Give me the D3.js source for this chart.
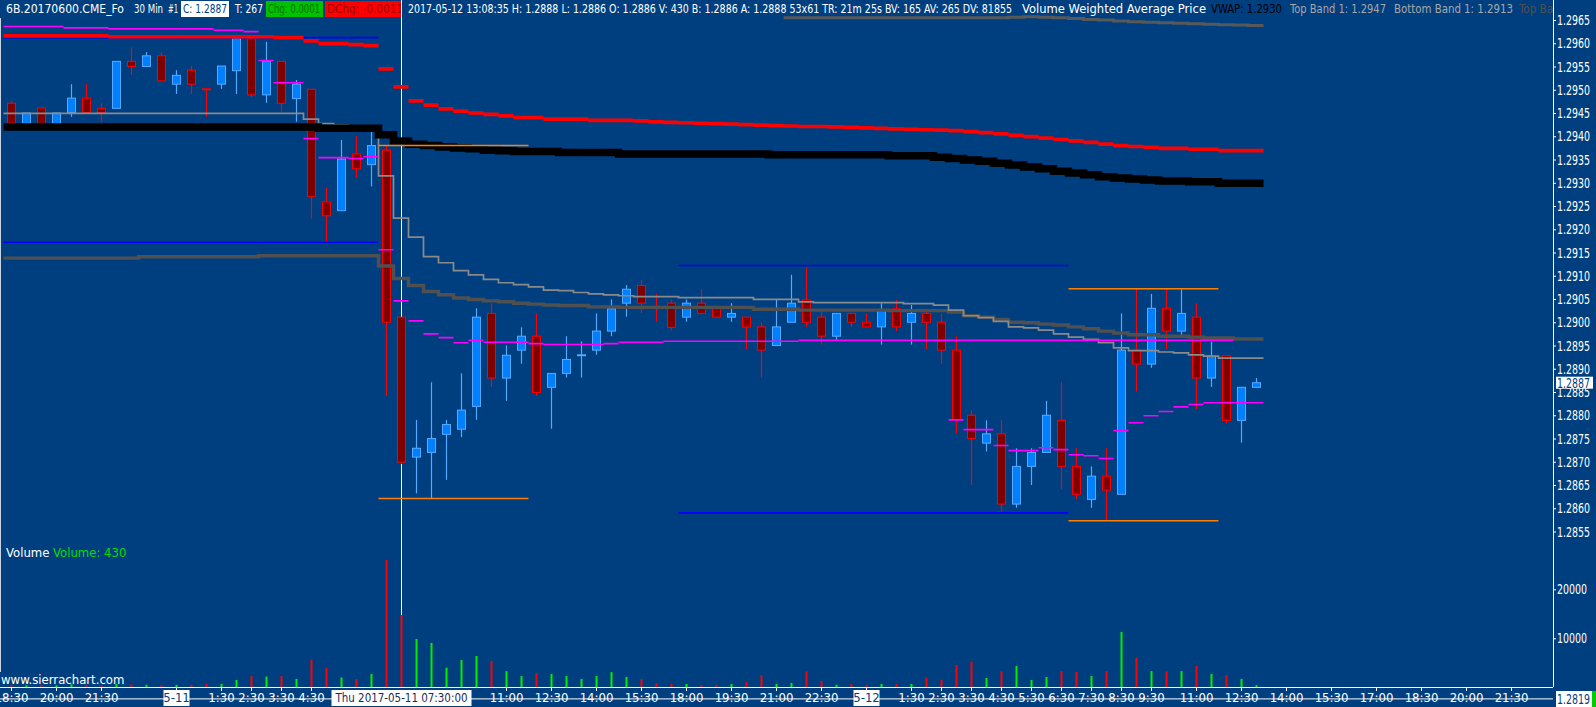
<!DOCTYPE html>
<html><head><meta charset="utf-8">
<script src="https://cdn.jsdelivr.net/npm/d3@7"></script>
<style>
body{margin:0;background:#003f7f;overflow:hidden}
svg{display:block}
text{font-family:"Liberation Sans Narrow","DejaVu Sans Condensed","Liberation Sans",sans-serif}
</style>
</head><body>
<svg id="c" width="1596" height="707"></svg>
<script>
// ---------------- DATA ----------------
const openP=[1.29471,1.29422,1.29461,1.29426,1.29451,1.29482,1.29460,1.29460,1.29561,1.29550,
1.29573,1.29512,1.29542,1.29502,1.29512,1.29541,1.29611,1.29489,1.29561,1.29481,
1.29501,1.29259,1.29240,1.29362,1.29339,1.29370,1.29011,1.28710,1.28720,1.28759,
1.28770,1.28819,1.29019,1.28880,1.28940,1.28970,1.28860,1.28890,1.28928,1.28940,
1.28981,1.29041,1.29079,1.29034,1.29041,1.29011,1.29041,1.29029,1.29011,1.29011,
1.28990,1.28950,1.29000,1.29048,1.29011,1.28970,1.29019,1.29000,1.28990,1.29029,
1.29000,1.29019,1.29000,1.28940,1.28800,1.28740,1.28760,1.28609,1.28690,1.28720,
1.28789,1.28690,1.28619,1.28669,1.28630,1.28940,1.28910,1.29030,1.28981,1.29011,
1.28880,1.28928,1.28789,1.28860];
const highP=[1.29476,1.29450,1.29461,1.29450,1.29512,1.29512,1.29472,1.29561,1.29591,1.29581,
1.29581,1.29542,1.29551,1.29502,1.29551,1.29618,1.29613,1.29603,1.29561,1.29521,
1.29501,1.29290,1.29392,1.29400,1.29409,1.29381,1.29011,1.28790,1.28871,1.28790,
1.28890,1.29030,1.29041,1.28950,1.28989,1.29019,1.28890,1.28970,1.28959,1.29019,
1.29049,1.29080,1.29091,1.29061,1.29049,1.29049,1.29071,1.29029,1.29041,1.29011,
1.29000,1.29048,1.29102,1.29118,1.29023,1.29019,1.29019,1.29019,1.29041,1.29049,
1.29037,1.29029,1.29019,1.28970,1.28811,1.28789,1.28789,1.28729,1.28729,1.28831,
1.28872,1.28729,1.28690,1.28729,1.29019,1.29071,1.29061,1.29071,1.29071,1.29041,
1.28958,1.28928,1.28860,1.28880];
const lowP=[1.29428,1.29422,1.29426,1.29426,1.29442,1.29451,1.29431,1.29460,1.29532,1.29550,
1.29519,1.29491,1.29491,1.29442,1.29502,1.29491,1.29484,1.29472,1.29453,1.29431,
1.29223,1.29173,1.29240,1.29311,1.29292,1.28842,1.28695,1.28632,1.28621,1.28661,
1.28753,1.28790,1.28861,1.28831,1.28911,1.28842,1.28771,1.28881,1.28881,1.28930,
1.28970,1.29012,1.29020,1.29001,1.28982,1.29001,1.29019,1.29011,1.29001,1.28942,
1.28881,1.28950,1.29000,1.28990,1.28952,1.28962,1.28990,1.28990,1.28952,1.28981,
1.28952,1.28942,1.28911,1.28761,1.28650,1.28722,1.28593,1.28601,1.28650,1.28720,
1.28641,1.28620,1.28601,1.28573,1.28630,1.28851,1.28902,1.28942,1.28973,1.28813,
1.28861,1.28782,1.28741,1.28860];
const closeP=[1.29428,1.29450,1.29426,1.29450,1.29482,1.29451,1.29451,1.29561,1.29550,1.29573,
1.29519,1.29531,1.29512,1.29500,1.29551,1.29611,1.29489,1.29562,1.29471,1.29512,
1.29270,1.29229,1.29351,1.29330,1.29380,1.29000,1.28699,1.28729,1.28750,1.28780,
1.28811,1.29011,1.28880,1.28929,1.28970,1.28849,1.28890,1.28920,1.28930,1.28981,
1.29029,1.29071,1.29041,1.29030,1.28989,1.29041,1.29019,1.29011,1.29019,1.28990,
1.28940,1.28990,1.29041,1.29000,1.28970,1.29019,1.29000,1.28990,1.29026,1.28990,
1.29019,1.29000,1.28940,1.28791,1.28750,1.28760,1.28609,1.28690,1.28720,1.28800,
1.28690,1.28630,1.28669,1.28639,1.28940,1.28910,1.29030,1.28981,1.29019,1.28880,
1.28927,1.28789,1.28860,1.28870];
const volumes=[500,400,500,400,600,500,400,670,600,500,
500,500,500,700,700,1500,2300,2200,2300,1700,
5600,4000,2000,1700,2700,26000,14750,9860,9050,4000,
5560,6380,5350,3300,2300,2900,2700,2300,1700,2300,
3100,2100,1700,820,670,670,500,500,670,1080,
2500,670,880,3300,1290,500,670,500,670,670,
670,1900,1500,4550,5200,1900,3300,4350,1500,2100,
3300,3100,2300,3300,11300,6000,3300,3300,3300,4350,
2700,2500,1700,430];
// VWAP (black)
const vwapLine=[1.29420,1.29420,1.29420,1.29420,1.29420,1.29420,1.29420,1.29420,1.29420,1.29420,
1.29420,1.29420,1.29420,1.29420,1.29420,1.29420,1.29420,1.29420,1.29420,1.29420,
1.29420,1.29417,1.29417,1.29417,1.29417,1.29403,1.29390,1.29383,1.29380,1.29377,
1.29375,1.29373,1.29370,1.29369,1.29367,1.29367,1.29367,1.29365,1.29365,1.29365,
1.29365,1.29362,1.29362,1.29362,1.29362,1.29362,1.29362,1.29362,1.29362,1.29362,
1.29362,1.29360,1.29360,1.29360,1.29360,1.29360,1.29360,1.29360,1.29360,1.29358,
1.29358,1.29358,1.29355,1.29352,1.29349,1.29346,1.29342,1.29338,1.29334,1.29330,
1.29325,1.29321,1.29317,1.29313,1.29310,1.29308,1.29306,1.29304,1.29304,1.29302,
1.29302,1.29299,1.29299,1.29299];
// red band
const redLine=[1.29616,1.29616,1.29616,1.29616,1.29616,1.29616,1.29616,1.29614,1.29614,1.29614,
1.29614,1.29614,1.29614,1.29614,1.29614,1.29614,1.29614,1.29614,1.29612,1.29612,
1.29605,1.29599,1.29599,1.29597,1.29595,1.29545,1.29506,1.29476,1.29467,1.29459,
1.29454,1.29450,1.29447,1.29444,1.29440,1.29440,1.29437,1.29437,1.29437,1.29434,
1.29434,1.29434,1.29433,1.29431,1.29430,1.29429,1.29428,1.29427,1.29426,1.29425,
1.29424,1.29423,1.29422,1.29421,1.29421,1.29420,1.29419,1.29418,1.29417,1.29416,
1.29415,1.29414,1.29413,1.29412,1.29410,1.29408,1.29405,1.29402,1.29399,1.29396,
1.29393,1.29390,1.29387,1.29383,1.29380,1.29378,1.29376,1.29374,1.29374,1.29372,
1.29372,1.29369,1.29369,1.29369];
// light gray step line
const lightGray=[1.29449,1.29449,1.29449,1.29449,1.29449,1.29449,1.29449,1.29449,1.29449,1.29449,
1.29449,1.29449,1.29449,1.29449,1.29449,1.29449,1.29449,1.29449,1.29449,1.29449,
1.29437,1.29427,1.29424,1.29421,1.29419,1.29315,1.29224,1.29183,1.29141,1.29128,
1.29111,1.29102,1.29092,1.29085,1.29081,1.29076,1.29069,1.29068,1.29064,1.29061,
1.29059,1.29057,1.29055,1.29055,1.29055,1.29053,1.29053,1.29053,1.29053,1.29053,
1.29049,1.29049,1.29049,1.29044,1.29042,1.29042,1.29042,1.29042,1.29042,1.29042,
1.29040,1.29040,1.29037,1.29026,1.29014,1.29010,1.29002,1.28990,1.28988,1.28983,
1.28975,1.28968,1.28963,1.28956,1.28945,1.28939,1.28939,1.28936,1.28934,1.28930,
1.28927,1.28923,1.28923,1.28923];
// dark gray thick step line
const darkGray=[1.29138,1.29138,1.29138,1.29138,1.29138,1.29138,1.29138,1.29138,1.29138,1.29141,
1.29141,1.29141,1.29141,1.29141,1.29141,1.29141,1.29141,1.29143,1.29143,1.29143,
1.29143,1.29143,1.29143,1.29143,1.29143,1.29121,1.29094,1.29079,1.29066,1.29059,
1.29052,1.29049,1.29046,1.29044,1.29041,1.29039,1.29037,1.29036,1.29036,1.29033,
1.29033,1.29032,1.29032,1.29032,1.29032,1.29032,1.29032,1.29032,1.29032,1.29032,
1.29028,1.29028,1.29028,1.29026,1.29026,1.29026,1.29026,1.29026,1.29026,1.29025,
1.29025,1.29025,1.29025,1.29022,1.29014,1.29011,1.29006,1.29000,1.28999,1.28996,
1.28994,1.28990,1.28986,1.28981,1.28977,1.28973,1.28973,1.28970,1.28970,1.28968,
1.28966,1.28966,1.28964,1.28964];
// magenta line A (bars 0..81)
const magentaA=[1.29636,1.29636,1.29636,1.29636,1.29633,1.29633,1.29633,1.29631,1.29631,1.29631,
1.29631,1.29631,1.29631,1.29631,1.29628,1.29628,1.29625,1.29563,1.29515,1.29515,
1.29395,1.29354,1.29354,1.29352,1.29356,1.29156,1.29046,1.29003,1.28975,1.28967,
1.28956,1.28961,1.28957,1.28957,1.28957,1.28954,1.28952,1.28952,1.28952,1.28952,
1.28954,1.28957,1.28957,1.28957,1.28959,1.28959,1.28959,1.28959,1.28959,1.28959,
1.28959,1.28959,1.28959,1.28961,1.28961,1.28961,1.28961,1.28961,1.28961,1.28961,
1.28961,1.28961,1.28961,1.28961,1.28961,1.28961,1.28961,1.28961,1.28961,1.28961,
1.28961,1.28961,1.28961,1.28961,1.28961,1.28961,1.28961,1.28961,1.28961,1.28961,
1.28961,1.28961];
// magenta line B (bars 63..83)
const magentaBStart=63;
const magentaB=[1.28790,1.28769,1.28769,1.28735,1.28724,1.28724,1.28730,1.28726,1.28715,1.28713,
1.28707,1.28767,1.28784,1.28799,1.28808,1.28818,1.28823,1.28827,1.28827,1.28827,1.28827];
// gray band at the top right (bars 52..83)
const topGrayStart=52;
const topGray=[1.29655,1.29655,1.29655,1.29655,1.29655,1.29655,1.29655,1.29655,1.29655,1.29655,
1.29655,1.29655,1.29655,1.29655,1.29655,1.29656,1.29657,1.29656,1.29655,
1.29653,1.29651,1.29650,1.29648,1.29646,1.29645,1.29644,1.29643,1.29642,
1.29641,1.29640,1.29639,1.29638];
// session high / low lines  [firstBar, lastBar, price, color]
const sessionLines=[
 [0,24,1.29612,"#0000ff"],[0,24,1.29172,"#0000ff"],
 [25,34,1.29380,"#ff8000"],[25,34,1.28621,"#ff8000"],
 [45,70,1.29122,"#0000ff"],[45,70,1.28590,"#0000ff"],
 [71,80,1.29072,"#ff8000"],[71,80,1.28573,"#ff8000"]];
const priceTicks=[1.2855,1.2860,1.2865,1.2870,1.2875,1.2880,1.2885,1.2890,1.2895,1.2900,1.2905,1.2910,1.2915,1.2920,1.2925,1.2930,1.2935,1.2940,1.2945,1.2950,1.2955,1.2960,1.2965];
const volumeTicks=[10000,20000];
const timeLabels=[[0,"18:30"],[3,"20:00"],[6,"21:30"],[11,"5-11"],[14,"1:30"],[16,"2:30"],[18,"3:30"],[20,"4:30"],
 [33,"11:00"],[36,"12:30"],[39,"14:00"],[42,"15:30"],[45,"18:00"],[48,"19:30"],[51,"21:00"],[54,"22:30"],[57,"5-12"],
 [60,"1:30"],[62,"2:30"],[64,"3:30"],[66,"4:30"],[68,"5:30"],[70,"6:30"],[72,"7:30"],[74,"8:30"],[76,"9:30"],
 [79,"11:00"],[82,"12:30"],[85,"14:00"],[88,"15:30"],[91,"17:00"],[94,"18:30"],[97,"20:00"],[100,"21:30"]];
const dateLabels=["5-11","5-12"];
const cursorBar=26, cursorLabel="Thu 2017-05-11  07:30:00";
const lastPrice=1.2887, refLine=1.2819;

// ---------------- DRAW ----------------
const W=1596,H=707,axisX=1553;
const svg=d3.select("#c");
const BG="#003f7f";
svg.append("rect").attr("width",W).attr("height",H).attr("fill",BG);
const x=d3.scaleLinear().domain([0,100]).range([11,1511]);
const y=d3.scaleLinear().domain([1.2855,1.2965]).range([531.5,20]);
const yv=d3.scaleLinear().domain([0,20000]).range([687.3,589.3]);
const half=7.5;

const g=svg.append("g");
// cursor line
g.append("line").attr("x1",x(cursorBar)+0.5).attr("x2",x(cursorBar)+0.5).attr("y1",0).attr("y2",687)
 .attr("stroke","#ffffff").attr("stroke-width",1);

// candles
const bars=d3.range(openP.length).map(i=>({i,o:openP[i],h:highP[i],l:lowP[i],c:closeP[i],v:volumes[i]}));
const cg=g.append("g");
bars.forEach(b=>{
  const up=b.c>b.o;
  const cx=x(b.i)+0.5;
  const wick=up?"#55aaff":"#ff0000";
  cg.append("line").attr("x1",cx).attr("x2",cx).attr("y1",y(b.h)).attr("y2",y(b.l)).attr("stroke",wick).attr("stroke-width",1.2);
  const top=y(Math.max(b.o,b.c)), bot=y(Math.min(b.o,b.c));
  cg.append("rect").attr("x",cx-4).attr("y",top).attr("width",8).attr("height",Math.max(bot-top,0.8))
    .attr("fill",up?"#0080ff":"#800000").attr("stroke",up?"#55aaff":"#ff0000").attr("stroke-width",1);
});

// volume bars
g.append("g").selectAll("rect").data(bars).join("rect")
 .attr("x",d=>x(d.i)-0.5).attr("width",2)
 .attr("y",d=>yv(d.v)).attr("height",d=>yv(0)-yv(d.v))
 .attr("fill",d=>d.c>d.o?"#00ee00":"#ff0000");

function stepPath(vals,start){
  let p="";
  vals.forEach((v,k)=>{
    const i=start+k, x0=x(i)-half, x1=x(i)+half, yy=y(v);
    p+=(k===0?"M":"L")+x0+","+yy+"L"+x1+","+yy;
  });
  return p;
}
function segPath(vals,start){
  let p="";
  vals.forEach((v,k)=>{const i=start+k;p+="M"+(x(i)-half)+","+y(v)+"H"+(x(i)+half);});
  return p;
}
// dark gray thick
g.append("path").attr("d",stepPath(darkGray,0)).attr("fill","none").attr("stroke","#505050").attr("stroke-width",3.4);
// light gray
g.append("path").attr("d",stepPath(lightGray,0)).attr("fill","none").attr("stroke","#8a8a8a").attr("stroke-width",1.7);
// top gray band
g.append("path").attr("d",stepPath(topGray,topGrayStart)).attr("fill","none").attr("stroke","#585858").attr("stroke-width",3);
// VWAP black
g.append("path").attr("d",stepPath(vwapLine,0)).attr("fill","none").attr("stroke","#000000").attr("stroke-width",7.5);
// session lines
sessionLines.forEach(s=>{
  g.append("line").attr("x1",x(s[0])-half).attr("x2",x(s[1])+half).attr("y1",y(s[2])).attr("y2",y(s[2]))
   .attr("stroke",s[3]).attr("stroke-width",1.6);
});
// red band
g.append("path").attr("d",segPath(redLine,0)).attr("fill","none").attr("stroke","#ff0000").attr("stroke-width",3.7);
// magenta
g.append("path").attr("d",segPath(magentaA,0)).attr("fill","none").attr("stroke","#ff00ff").attr("stroke-width",1.6);
g.append("path").attr("d",segPath(magentaB,magentaBStart)).attr("fill","none").attr("stroke","#ff00ff").attr("stroke-width",1.6);

// reference line 1.2819
g.append("line").attr("x1",0).attr("x2",axisX).attr("y1",y(refLine)).attr("y2",y(refLine)).attr("stroke","#ffffff").attr("stroke-width",1);

// frame lines
svg.append("line").attr("x1",axisX+0.5).attr("x2",axisX+0.5).attr("y1",0).attr("y2",687).attr("stroke","#fff");
svg.append("line").attr("x1",0).attr("x2",axisX).attr("y1",687.5).attr("y2",687.5).attr("stroke","#fff");
svg.append("line").attr("x1",0.5).attr("x2",0.5).attr("y1",18).attr("y2",672).attr("stroke","#c8d4e4");

// price axis
function fitText(sel,len){return sel.attr("textLength",len).attr("lengthAdjust","spacingAndGlyphs");}
const ax=svg.append("g");
priceTicks.forEach(t=>{
  ax.append("line").attr("x1",axisX).attr("x2",axisX+3).attr("y1",y(t)+0.5).attr("y2",y(t)+0.5).attr("stroke","#fff");
  fitText(ax.append("text").attr("x",1557).attr("y",y(t)+5).attr("fill","#fff").attr("font-size",14).text(t.toFixed(4)),33);
});
volumeTicks.forEach(t=>{
  ax.append("line").attr("x1",axisX).attr("x2",axisX+3).attr("y1",yv(t)+0.5).attr("y2",yv(t)+0.5).attr("stroke","#fff");
  fitText(ax.append("text").attr("x",1557).attr("y",yv(t)+5).attr("fill","#fff").attr("font-size",14).text(String(t)),30);
});
// last price box
ax.append("rect").attr("x",1556).attr("y",y(lastPrice)-6).attr("width",37).attr("height",12).attr("fill","#fff");
fitText(ax.append("text").attr("x",1557).attr("y",y(lastPrice)+5).attr("fill","#003f7f").attr("font-size",14).text(lastPrice.toFixed(4)),33);
// ref price box
ax.append("rect").attr("x",1556).attr("y",691).attr("width",36).attr("height",16).attr("fill","#fff");
ax.append("rect").attr("x",1592).attr("y",691).attr("width",4).attr("height",16).attr("fill","#00cc00");
fitText(ax.append("text").attr("x",1557).attr("y",704).attr("fill","#003f7f").attr("font-size",14).text(refLine.toFixed(4)),33);

// time axis
const tx=svg.append("g");
timeLabels.forEach(([i,t])=>{
  const xx=x(i)+0.5;
  tx.append("line").attr("x1",xx).attr("x2",xx).attr("y1",687).attr("y2",691).attr("stroke","#fff");
  const isDate=dateLabels.includes(t);
  if(isDate){
    tx.append("rect").attr("x",xx-13).attr("y",690).attr("width",26).attr("height",16).attr("fill","#fff");
  }
  tx.append("text").attr("x",xx).attr("y",702).attr("text-anchor","middle").attr("font-size",13)
    .attr("fill",isDate?"#003f7f":"#fff").text(t);
});
{
  const xx=x(cursorBar)+0.5;
  tx.append("rect").attr("x",xx-70).attr("y",690).attr("width",140).attr("height",16).attr("fill","#fff");
  fitText(tx.append("text").attr("x",xx-66).attr("y",702).attr("font-size",13).attr("fill","#1a2a5a").text(cursorLabel),132);
}

// volume panel labels
svg.append("text").attr("x",6).attr("y",557).attr("font-size",13).attr("fill","#fff").text("Volume");
svg.append("text").attr("x",53).attr("y",557).attr("font-size",13).attr("fill","#00dd00").text("Volume: 430");
svg.append("text").attr("x",1).attr("y",684).attr("font-size",13).attr("fill","#fff").text("www.sierrachart.com");

// header
const hd=svg.append("g");
function htext(xx,len,txt,col,box,boxCol,boxW){
  if(box){hd.append("rect").attr("x",xx-2).attr("y",1).attr("width",boxW).attr("height",16).attr("fill",boxCol);}
  fitText(hd.append("text").attr("x",xx).attr("y",13).attr("font-size",13).attr("fill",col).text(txt),len);
}
htext(6,118,"6B.20170600.CME_Fo","#fff");
htext(134,29,"30 Min","#fff");
htext(168,10,"#1","#fff");
htext(183,44,"C: 1.2887","#003f7f",true,"#fff",48);
htext(235,28,"T: 267","#fff");
htext(268,52,"Chg: 0.0001","#007000",true,"#00c000",57);
htext(327,76,"DChg: -0.0011","#a00000",true,"#ff0000",77);
htext(408,604,"2017-05-12 13:08:35 H: 1.2888 L: 1.2886 O: 1.2886 V: 430 B: 1.2886 A: 1.2888 53x61 TR: 21m 25s BV: 165 AV: 265 DV: 81855","#fff");
htext(1022,184,"Volume Weighted Average Price","#fff");
htext(1211,71,"VWAP: 1.2930","#000");
htext(1290,96,"Top Band 1: 1.2947","#a8a8a8");
htext(1394,119,"Bottom Band 1: 1.2913","#a8a8a8");
svg.append("clipPath").attr("id","hc").append("rect").attr("x",0).attr("y",0).attr("width",axisX).attr("height",20);
hd.append("text").attr("x",1519).attr("y",13).attr("font-size",13).attr("fill","#505050").attr("clip-path","url(#hc)")
  .attr("textLength",57).attr("lengthAdjust","spacingAndGlyphs").text("Top Band 2");
// cursor line over header
svg.append("line").attr("x1",x(cursorBar)+0.5).attr("x2",x(cursorBar)+0.5).attr("y1",0).attr("y2",20).attr("stroke","#fff");
</script>
</body></html>
